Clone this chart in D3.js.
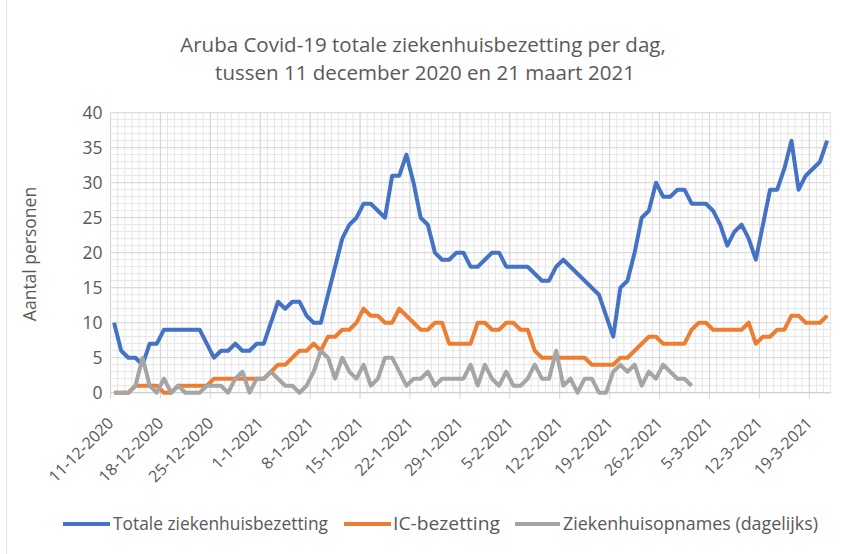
<!DOCTYPE html>
<html>
<head>
<meta charset="utf-8">
<script src="https://cdn.jsdelivr.net/npm/d3@7"></script>
<style>
  body { margin: 0; background: #fff; }
  #chart text { font-family: "Open Sans", sans-serif; fill: #595959; }
</style>
</head>
<body>
<div id="chart"></div>
<script>
// Days 11-12-2020 .. 21-3-2021
let dates = d3.timeDay.range(new Date(2020, 11, 11), new Date(2021, 2, 22));

let tickLabels = ["11-12-2020", "18-12-2020", "25-12-2020", "1-1-2021", "8-1-2021",
    "15-1-2021", "22-1-2021", "29-1-2021", "5-2-2021", "12-2-2021", "19-2-2021",
    "26-2-2021", "5-3-2021", "12-3-2021", "19-3-2021"];

let totaal = [10, 6, 5, 5, 4, 7, 7, 9, 9, 9, 9, 9, 9, 7, 5, 6, 6, 7, 6, 6,
    7, 7, 10, 13, 12, 13, 13, 11, 10, 10, 14, 18, 22, 24, 25, 27, 27, 26, 25, 31,
    31, 34, 30, 25, 24, 20, 19, 19, 20, 20, 18, 18, 19, 20, 20, 18, 18, 18, 18, 17,
    16, 16, 18, 19, 18, 17, 16, 15, 14, 11, 8, 15, 16, 20, 25, 26, 30, 28, 28, 29,
    29, 27, 27, 27, 26, 24, 21, 23, 24, 22, 19, 24, 29, 29, 32, 36, 29, 31, 32, 33, 36];

let icBezetting = [0, 0, 0, 1, 1, 1, 1, 0, 0, 1, 1, 1, 1, 1, 2, 2, 2, 2, 2, 2,
    2, 2, 3, 4, 4, 5, 6, 6, 7, 6, 8, 8, 9, 9, 10, 12, 11, 11, 10, 10,
    12, 11, 10, 9, 9, 10, 10, 7, 7, 7, 7, 10, 10, 9, 9, 10, 10, 9, 9, 6,
    5, 5, 5, 5, 5, 5, 5, 4, 4, 4, 4, 5, 5, 6, 7, 8, 8, 7, 7, 7,
    7, 9, 10, 10, 9, 9, 9, 9, 9, 10, 7, 8, 8, 9, 9, 11, 11, 10, 10, 10, 11];

let opnames = [0, 0, 0, 1, 5, 1, 0, 2, 0, 1, 0, 0, 0, 1, 1, 1, 0, 2, 3, 0,
    2, 2, 3, 2, 1, 1, 0, 1, 3, 6, 5, 2, 5, 3, 2, 4, 1, 2, 5, 5,
    3, 1, 2, 2, 3, 1, 2, 2, 2, 2, 4, 1, 4, 2, 1, 3, 1, 1, 2, 4,
    2, 2, 6, 1, 2, 0, 2, 2, 0, 0, 3, 4, 3, 4, 1, 3, 2, 4, 3, 2, 2, 1];

let series = [
    {name: "Totale ziekenhuisbezetting", values: totaal, color: "#4472C4"},
    {name: "IC-bezetting", values: icBezetting, color: "#ED7D31"},
    {name: "Ziekenhuisopnames (dagelijks)", values: opnames, color: "#A5A5A5"}
];

let width = 857, height = 554;
let plot = {left: 110.5, right: 830.7, top: 112.7, bottom: 392.7};

let svg = d3.select("#chart").append("svg")
    .attr("width", width)
    .attr("height", height);

// Chart area edge on the left
svg.append("line")
    .attr("x1", 6.5).attr("x2", 6.5)
    .attr("y1", 0).attr("y2", height)
    .attr("stroke", "#e0e0e0");

let x = d3.scaleBand().domain(dates).range([plot.left, plot.right]).padding(0);
let y = d3.scaleLinear().domain([0, 40]).range([plot.bottom, plot.top]);
let bw = x.bandwidth();

// Gridlines: minor every day / every 1, major every week / every 5
let grid = svg.append("g");
grid.selectAll(".vminor")
    .data(d3.range(dates.length + 1))
    .enter().append("line")
    .attr("x1", i => plot.left + i * bw).attr("x2", i => plot.left + i * bw)
    .attr("y1", plot.top).attr("y2", plot.bottom)
    .attr("stroke", "#e6e6e6");
grid.selectAll(".hminor")
    .data(d3.range(0, 41))
    .enter().append("line")
    .attr("x1", plot.left).attr("x2", plot.right)
    .attr("y1", d => y(d)).attr("y2", d => y(d))
    .attr("stroke", d => d % 5 === 0 ? "#d4d4d4" : "#e6e6e6");
grid.selectAll(".vmajor")
    .data(d3.range(0, dates.length + 1, 7))
    .enter().append("line")
    .attr("x1", i => plot.left + i * bw).attr("x2", i => plot.left + i * bw)
    .attr("y1", plot.top).attr("y2", plot.bottom + 6)
    .attr("stroke", "#d4d4d4");

// Bottom axis line
svg.append("line")
    .attr("x1", plot.left).attr("x2", plot.right)
    .attr("y1", plot.bottom).attr("y2", plot.bottom)
    .attr("stroke", "#cfcfcf");

// Y axis labels
let yAxis = svg.append("g")
    .attr("transform", "translate(" + (plot.left - 8) + ",0)")
    .call(d3.axisLeft(y).tickValues(d3.range(0, 41, 5)).tickSize(0).tickPadding(0));
yAxis.select(".domain").remove();
yAxis.selectAll("text").style("font-size", "17.5px").attr("dy", "0.35em");

// X axis labels, rotated
let tickDates = dates.filter((d, i) => i % 7 === 0);
let xAxis = svg.append("g")
    .attr("transform", "translate(0," + plot.bottom + ")")
    .call(d3.axisBottom(x).tickValues(tickDates).tickSize(0)
        .tickFormat((d, i) => tickLabels[i]));
xAxis.select(".domain").remove();
xAxis.selectAll("text")
    .style("font-size", "16px")
    .attr("text-anchor", "end")
    .attr("transform", "translate(-3.5,27.5) rotate(-45)")
    .attr("dy", "0.35em")
    .attr("y", 0)
    .attr("x", 0);

// Lines
let line = d3.line()
    .x((d, i) => x(dates[i]) + bw / 2)
    .y(d => y(d));

svg.selectAll(".series")
    .data(series)
    .enter().append("path")
    .attr("fill", "none")
    .attr("stroke", d => d.color)
    .attr("stroke-width", 4)
    .attr("stroke-linejoin", "round")
    .attr("d", d => line(d.values));

// Title
let title = svg.append("text")
    .attr("x", 423).attr("y", 52)
    .attr("text-anchor", "middle")
    .style("font-size", "20.5px");
title.append("tspan").attr("x", 423).text("Aruba Covid-19 totale ziekenhuisbezetting per dag,");
title.append("tspan").attr("x", 425).attr("dy", 28).text("tussen 11 december 2020 en 21 maart 2021");

// Y axis title
svg.append("text")
    .attr("transform", "translate(36,254) rotate(-90)")
    .attr("text-anchor", "middle")
    .style("font-size", "17.5px")
    .text("Aantal personen");

// Legend
let legendLine = [[63, 110], [344, 391], [515, 560]];
let legendText = [{x: 113, w: 215}, {x: 393, w: 107}, {x: 563, w: 255}];
let legend = svg.selectAll(".legend")
    .data(series)
    .enter().append("g");
legend.append("line")
    .attr("x1", (d, i) => legendLine[i][0]).attr("x2", (d, i) => legendLine[i][1])
    .attr("y1", 524).attr("y2", 524)
    .attr("stroke", d => d.color)
    .attr("stroke-width", 4);
legend.append("text")
    .attr("x", (d, i) => legendText[i].x).attr("y", 524).attr("dy", "0.35em")
    .attr("textLength", (d, i) => legendText[i].w)
    .attr("lengthAdjust", "spacingAndGlyphs")
    .style("font-size", "18px")
    .text(d => d.name);
</script>
</body>
</html>
